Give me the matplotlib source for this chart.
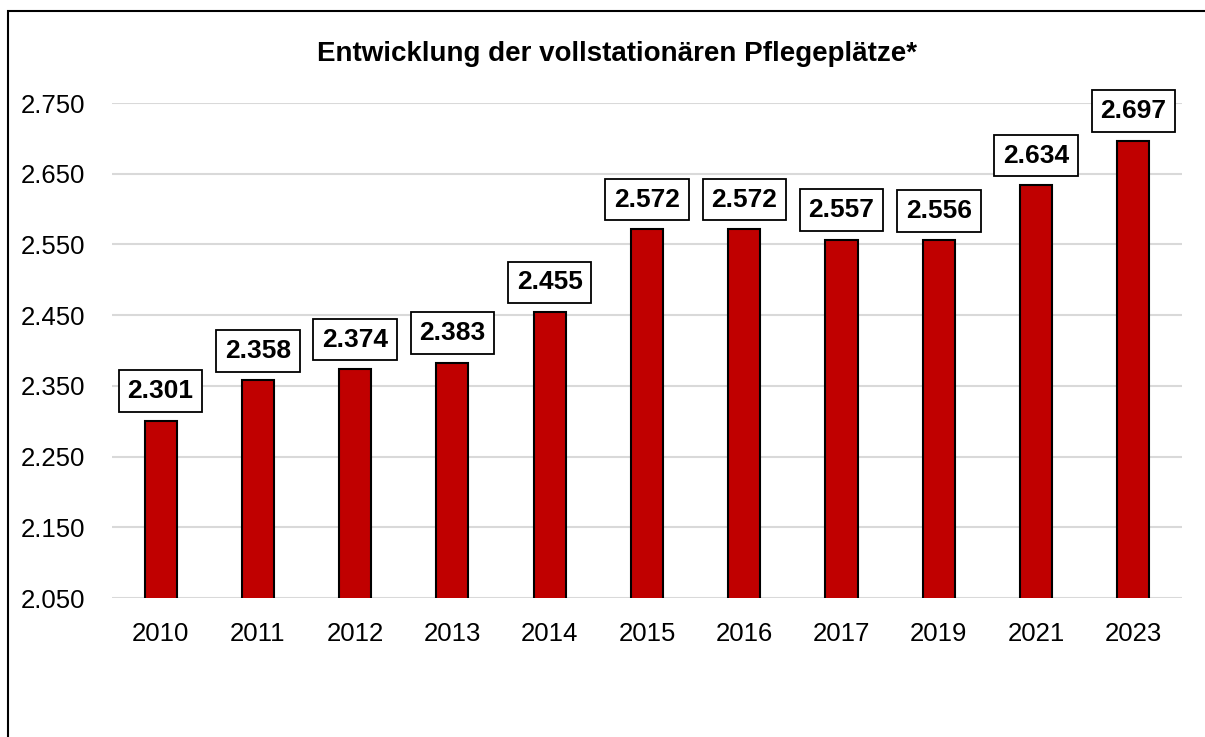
import matplotlib
matplotlib.use("Agg")
import matplotlib.pyplot as plt
from matplotlib.patches import Rectangle

# data
years = ["2010", "2011", "2012", "2013", "2014", "2015", "2016", "2017", "2019", "2021", "2023"]
plaetze = [2301, 2358, 2374, 2383, 2455, 2572, 2572, 2557, 2556, 2634, 2697]
y_ticks = [2050, 2150, 2250, 2350, 2450, 2550, 2650, 2750]
title = "Entwicklung der vollstationären Pflegeplätze*"


def de_fmt(v):
    return f"{v:,}".replace(",", ".")


plt.rcParams['font.family'] = ['Liberation Sans', 'DejaVu Sans']

fig = plt.figure(figsize=(12.05, 7.37), dpi=100)
ax = fig.add_axes([0.0929, 0.1886, 0.8880, 0.6716])

x = list(range(len(years)))
ax.bar(x, plaetze, width=0.33, color="#C00000", edgecolor="black", linewidth=1.5, zorder=3)

for xi, v in zip(x, plaetze):
    ax.annotate(de_fmt(v), xy=(xi, v), xytext=(0, 12.5), textcoords="offset points",
                ha="center", va="bottom", fontsize=19, fontweight="bold",
                bbox=dict(boxstyle="square,pad=0.33", facecolor="white", edgecolor="black", linewidth=1.3),
                annotation_clip=False, zorder=5)

ax.set_xlim(-0.5, len(years) - 0.5)
ax.set_ylim(2050, 2750)
ax.set_yticks(y_ticks)
ax.set_yticklabels([de_fmt(t) for t in y_ticks])
ax.set_xticks(x)
ax.set_xticklabels(years)
ax.tick_params(axis="both", length=0, labelsize=18.5)
ax.tick_params(axis="y", pad=19)
ax.tick_params(axis="x", pad=17)
ax.yaxis.grid(True, color="#D9D9D9", linewidth=1.5, zorder=0)
ax.set_axisbelow(True)
for s in ax.spines.values():
    s.set_visible(False)

fig.text(0.512, 0.927, title, ha="center", va="center", fontsize=20, fontweight="bold")

# outer frame, only top and left edges are inside the picture
fig.patches.append(Rectangle((8 / 1205, -0.1), 1.2, 1 - 11 / 737 + 0.1, transform=fig.transFigure,
                             fill=False, edgecolor="black", linewidth=1.5))

fig.savefig("out.png", dpi=100)
